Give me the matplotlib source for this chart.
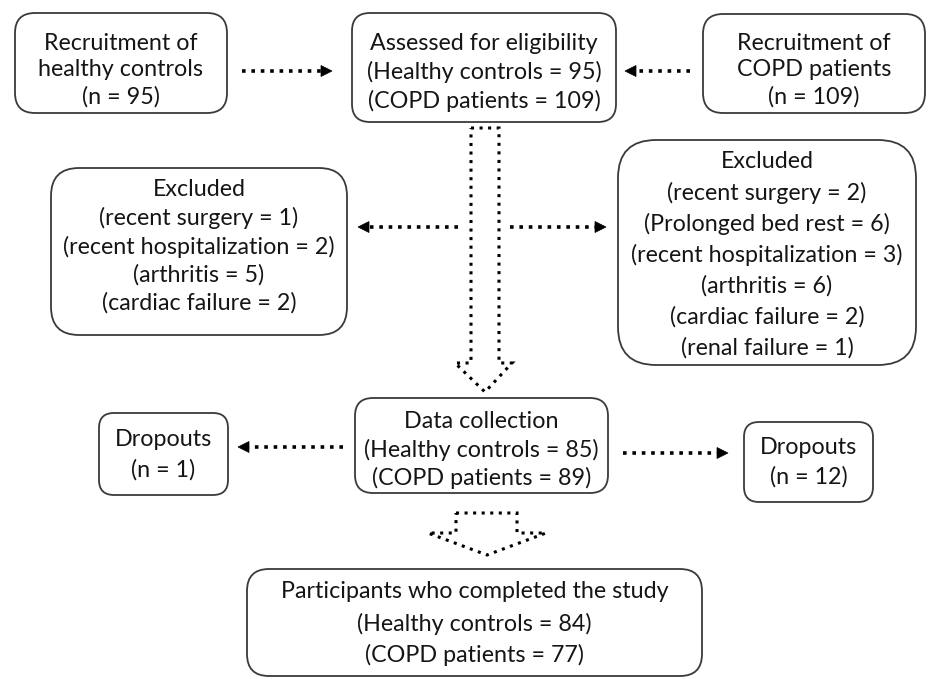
import matplotlib
matplotlib.use("Agg")
import matplotlib.pyplot as plt
from matplotlib.patches import FancyBboxPatch, Polygon

# ---------------- content ----------------
recruit_hc = ["Recruitment of", "healthy controls", "(n = 95)"]
assessed = ["Assessed for eligibility", "(Healthy controls = 95)", "(COPD patients = 109)"]
recruit_copd = ["Recruitment of", "COPD patients", "(n = 109)"]
excl_hc = ["Excluded", "(recent surgery = 1)", "(recent hospitalization = 2)",
           "(arthritis = 5)", "(cardiac failure = 2)"]
excl_copd = ["Excluded", "(recent surgery = 2)", "(Prolonged bed rest = 6)",
             "(recent hospitalization = 3)", "(arthritis = 6)",
             "(cardiac failure = 2)", "(renal failure = 1)"]
data_coll = ["Data collection", "(Healthy controls = 85)", "(COPD patients = 89)"]
drop_hc = ["Dropouts", "(n = 1)"]
drop_copd = ["Dropouts", "(n = 12)"]
completed = ["Participants who completed the study", "(Healthy controls = 84)",
             "(COPD patients = 77)"]

# ---------------- layout (pixels) ----------------
W, H = 941, 679
fig = plt.figure(figsize=(W / 100, H / 100), dpi=100)
ax = fig.add_axes([0, 0, 1, 1])
ax.set_xlim(0, W)
ax.set_ylim(H, 0)
ax.axis("off")

FONT = "Lato"
TXT = "#151515"
EDGE = "#3a3a3a"

# fit font size to a measured line width
probe = ax.text(0, 0, "(recent hospitalization = 2)", family=FONT, fontsize=10)
fig.canvas.draw()
pw = probe.get_window_extent().width
probe.remove()
FS = 10 * 272 / pw

# (lines, x0, y0, x1, y1, radius, first line y, spacing)
boxes = [
    (recruit_hc, 15, 13, 227, 113, 20, 43, 27),
    (assessed, 352, 13, 616, 122, 18, 43, 29),
    (recruit_copd, 703, 14, 925, 113, 20, 43, 27),
    (excl_hc, 51, 168, 347, 335, 28, 190, 28.3),
    (excl_copd, 618, 140, 916, 365, 38, 162, 31),
    (data_coll, 355, 398, 608, 493, 18, 422, 28),
    (drop_hc, 99, 413, 228, 495, 15, 439, 31),
    (drop_copd, 744, 422, 873, 502, 15, 448, 29),
    (completed, 247, 569, 702, 676, 22, 592, 31.5),
]

for lines, x0, y0, x1, y1, r, ty, sp in boxes:
    ax.add_patch(FancyBboxPatch((x0, y0), x1 - x0, y1 - y0,
                                boxstyle=f"round,pad=0,rounding_size={r}",
                                fc="white", ec=EDGE, lw=1.3))
    cx = (x0 + x1) / 2
    for i, s in enumerate(lines):
        ax.text(cx, ty + i * sp, s, family=FONT, fontsize=FS, color=TXT,
                ha="center", va="center")

DOT = (0, (1.0, 1.6))
LW = 2.6


def dotted_arrow(x_tail, x_tip, y):
    d = 1 if x_tip > x_tail else -1
    hl, hw = 11, 5.5
    ax.plot([x_tail, x_tip - d * hl], [y, y], color="black", lw=LW,
            linestyle=DOT, solid_capstyle="butt", dash_capstyle="butt")
    ax.add_patch(Polygon([(x_tip, y), (x_tip - d * hl, y - hw),
                          (x_tip - d * hl, y + hw)], closed=True,
                         fc="black", ec="black", lw=0.5))


dotted_arrow(242, 332, 71)
dotted_arrow(690, 625, 71)
dotted_arrow(458, 358, 227)
dotted_arrow(510, 606, 227)
dotted_arrow(343, 238, 447)
dotted_arrow(623, 728, 453)


def hollow_arrow(xl, xr, top, wing_y, wl, wr, tipx, tipy):
    pts = [(xl, top), (xr, top), (xr, wing_y), (wr, wing_y), (tipx, tipy),
           (wl, wing_y), (xl, wing_y)]
    ax.add_patch(Polygon(pts, closed=True, fill=False, ec="black", lw=2.2,
                         linestyle=(0, (1.0, 1.8))))


hollow_arrow(471, 499, 128, 363, 455, 512, 485, 392)
hollow_arrow(456, 517, 513, 533, 428, 546, 487, 555)

fig.savefig("out.png", dpi=100, facecolor="white")
